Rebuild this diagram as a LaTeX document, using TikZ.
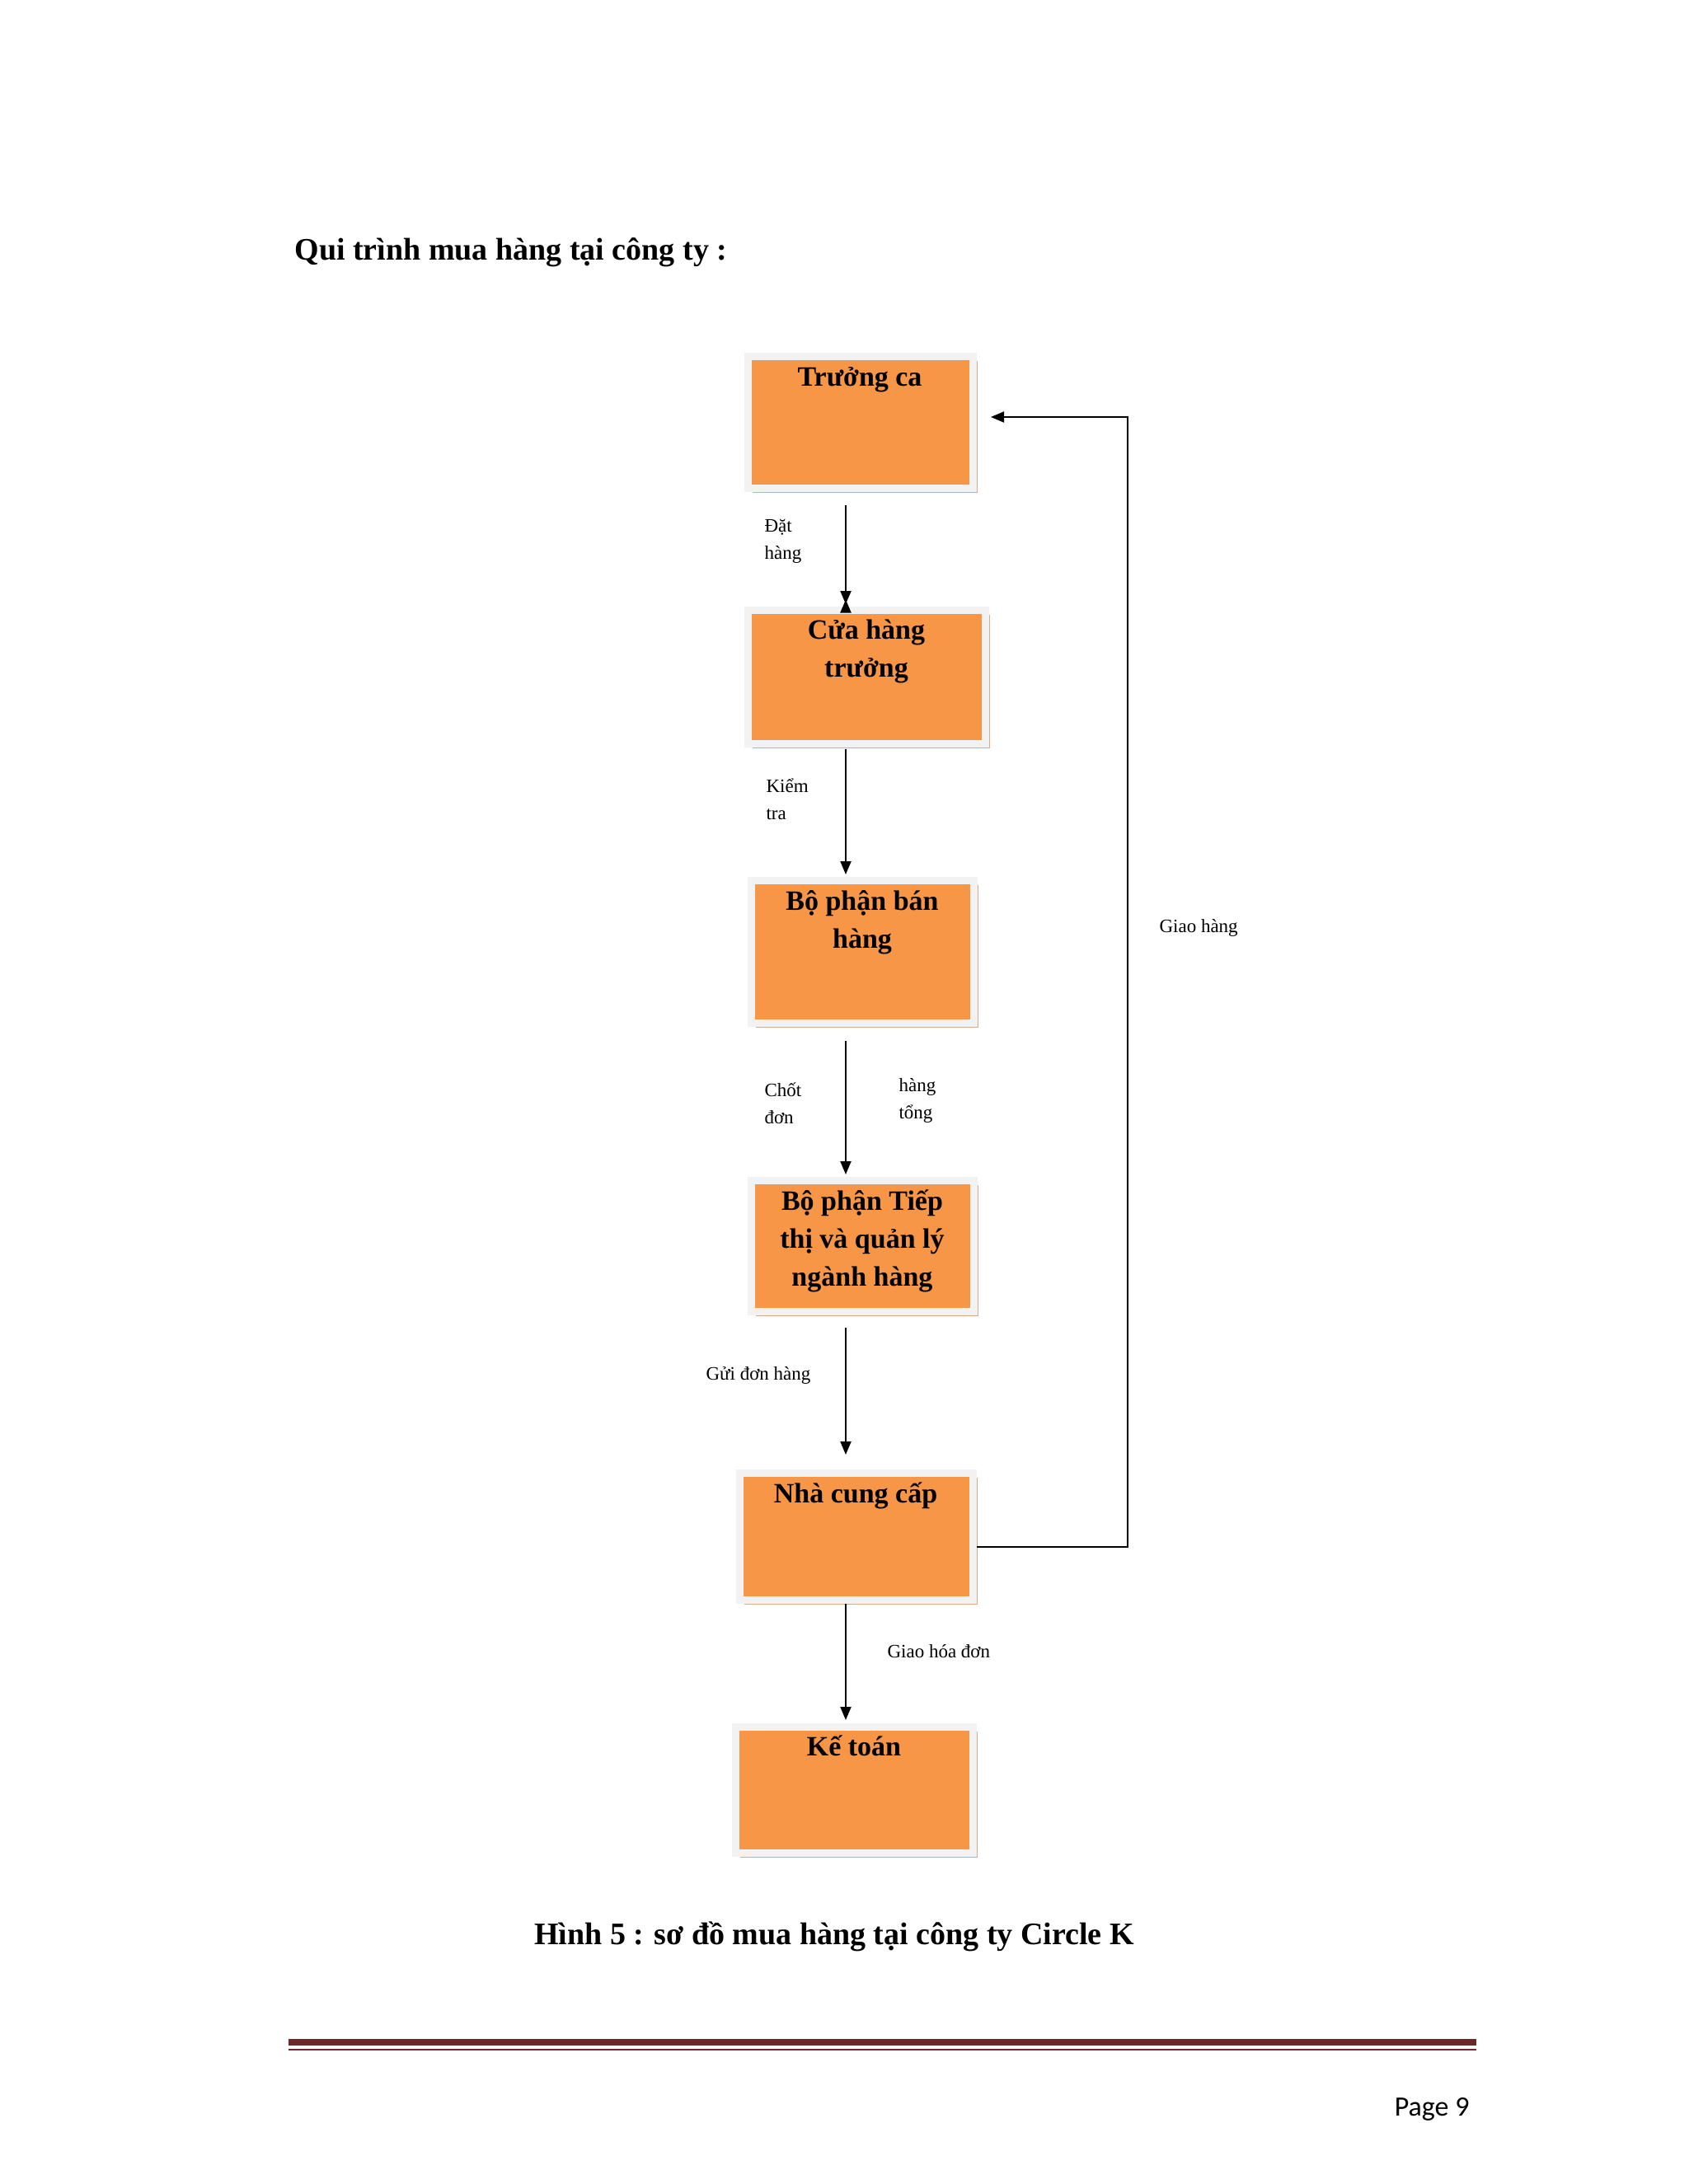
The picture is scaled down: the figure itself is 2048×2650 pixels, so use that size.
\documentclass[tikz,border=0pt]{standalone}
\usepackage{fontspec}
\setmainfont{Liberation Serif}
\newfontfamily\pagefont{Carlito}
\usetikzlibrary{shadows,arrows.meta}
\definecolor{org}{HTML}{F79646}
\definecolor{frm}{HTML}{F2F2F2}
\definecolor{shd}{HTML}{D5AC8E}
\definecolor{rule}{HTML}{6B2A2A}
\begin{document}
\begin{tikzpicture}[x=1pt,y=-1pt,
  box/.style={fill=org,draw=frm,line width=9pt,inner sep=0pt,
    general shadow={fill=shd,shadow xshift=6pt,shadow yshift=-6pt}},
  ttl/.style={font=\bfseries\fontsize{34}{46}\selectfont,align=center,anchor=north},
  lab/.style={font=\fontsize{23}{33}\selectfont,align=left,anchor=west},
  arr/.style={line width=2pt,-{Triangle[length=16pt,width=13pt]}}]
\useasboundingbox (0,0) rectangle (2048,2650);
\node[font=\bfseries\fontsize{38}{44}\selectfont,anchor=west] (head) at (354,306) {Qui trình mua hàng tại công ty :};
% boxes
\node[box,minimum width=273pt,minimum height=160pt] (b1) at (1043.5,512) {};
\node[box,minimum width=288pt,minimum height=162pt] (b2) at (1051,821) {};
\node[box,minimum width=270pt,minimum height=173pt] (b3) at (1046,1154.5) {};
\node[box,minimum width=270pt,minimum height=159pt] (b4) at (1046,1511.5) {};
\node[box,minimum width=283pt,minimum height=154pt] (b5) at (1038.5,1864) {};
\node[box,minimum width=288pt,minimum height=153pt] (b6) at (1036,2171.5) {};
\node[ttl] (t1) at (1043,442) {Trưởng ca};
\node[ttl] (t2) at (1051,748) {Cửa hàng\\trưởng};
\node[ttl] (t3) at (1046,1077) {Bộ phận bán\\hàng};
\node[ttl] (t4) at (1046,1440) {Bộ phận Tiếp\\thị và quản lý\\ngành hàng};
\node[ttl] (t5) at (1038,1795) {Nhà cung cấp};
\node[ttl] (t6) at (1036,2102) {Kế toán};
% arrows
\coordinate (a1) at (1026,613);
\coordinate (a2) at (1026,909);
\coordinate (a3) at (1026,1263);
\coordinate (a4) at (1026,1611);
\coordinate (a5) at (1026,1946);
\draw[arr] (a1) -- (a1 |- b2.north) ++(0,-8);
\draw[arr] (a1) -- (1026,733);
\draw[arr] (a2) -- (1026,1061);
\draw[arr] (a3) -- (1026,1425);
\draw[arr] (a4) -- (1026,1765);
\draw[arr] (a5) -- (1026,2087);
\coordinate (f1) at (1185,1877);
\coordinate (f2) at (1202,506);
\draw[arr] (f1) -- (1368,1877) -- (1368,506) -- (f2);
% labels
\node[lab] (l1) at (924,657) {Đặt\\hàng};
\node[lab] (l2) at (926,970) {Kiểm\\tra};
\node[lab] (l3) at (924,1339) {Chốt\\đơn};
\node[lab] (l4) at (1087,1335) {hàng\\tổng};
\node[lab] (l5) at (853,1669) {Gửi đơn hàng};
\node[lab] (l6) at (1073,2004) {Giao hóa đơn};
\node[lab] (l7) at (1403,1126) {Giao hàng};
\node[font=\bfseries\fontsize{38}{44}\selectfont] (cap) at (1012,2350) {Hình 5 : sơ đồ mua hàng tại công ty Circle K};
\fill[rule] (350,2474) rectangle (1791,2482);
\fill[rule] (350,2486) rectangle (1791,2488);
\node[font=\pagefont\fontsize{34}{40}\selectfont,anchor=east] (pg) at (1786,2559) {Page 9};
\end{tikzpicture}
\end{document}
